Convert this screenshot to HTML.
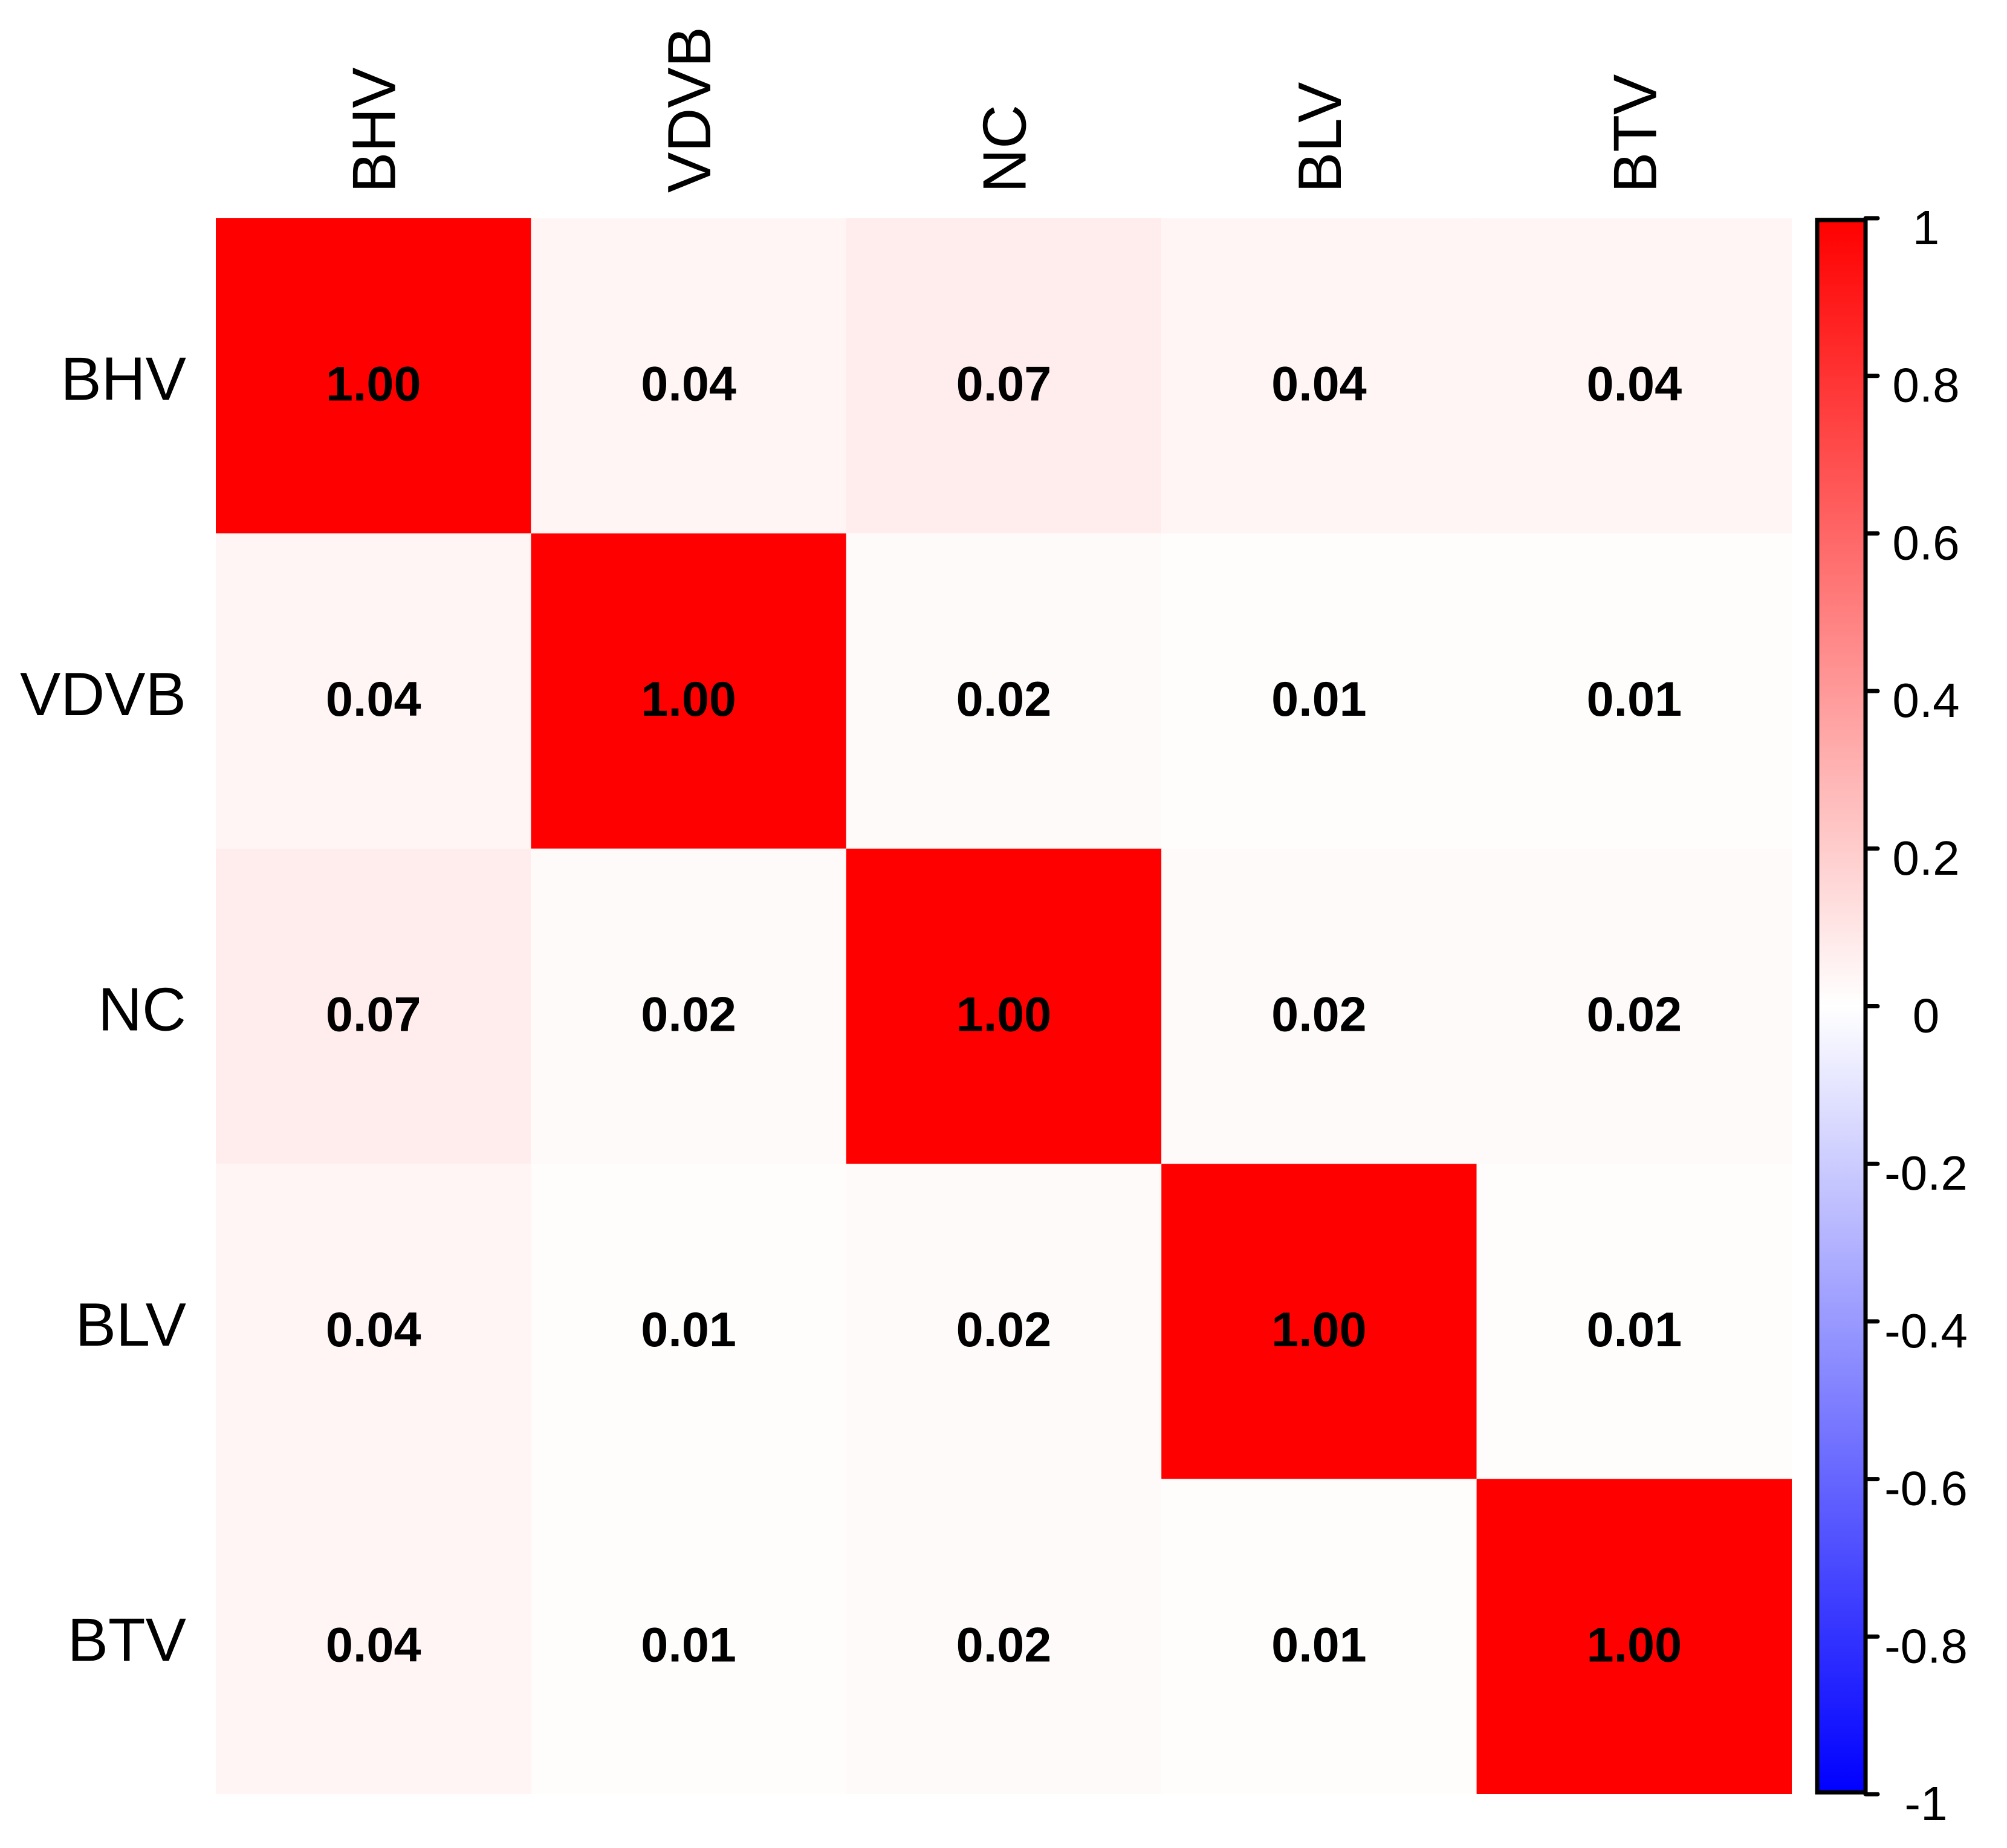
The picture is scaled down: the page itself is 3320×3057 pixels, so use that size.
<!DOCTYPE html>
<html><head><meta charset="utf-8"><style>
html,body{margin:0;padding:0;background:#fff}
svg{display:block}
text{font-family:"Liberation Sans",Arial,sans-serif}
</style></head><body>
<svg id="chart" width="3320" height="3057" viewBox="0 0 3320 3057" xmlns="http://www.w3.org/2000/svg">
<defs>
<linearGradient id="cbgrad" x1="0" y1="0" x2="0" y2="1">
<stop offset="0" stop-color="#ff0000"/>
<stop offset="0.5" stop-color="#ffffff"/>
<stop offset="1" stop-color="#0000ff"/>
</linearGradient>
</defs>
<g id="cells"></g>
<g id="labels"></g>
<g id="colorbar"></g>
</svg>
<script>
const categories = ["BHV","VDVB","NC","BLV","BTV"];
const values = [
  [1.00,0.04,0.07,0.04,0.04],
  [0.04,1.00,0.02,0.01,0.01],
  [0.07,0.02,1.00,0.02,0.02],
  [0.04,0.01,0.02,1.00,0.01],
  [0.04,0.01,0.02,0.01,1.00]
];
const cbTicks = [1,0.8,0.6,0.4,0.2,0,-0.2,-0.4,-0.6,-0.8,-1];
const cbTickLabels = ["1","0.8","0.6","0.4","0.2","0","-0.2","-0.4","-0.6","-0.8","-1"];

const NS = "http://www.w3.org/2000/svg";
const gx0 = 357, gy0 = 361, gx1 = 2964, gy1 = 2968;
const n = categories.length;
const cw = (gx1 - gx0) / n, ch = (gy1 - gy0) / n;
function xPos(i){ return gx0 + i * cw; }
function yPos(i){ return gy0 + i * ch; }
function color(v){
  let r,g,b;
  if (v >= 0){ r = 255; g = b = Math.round(255 * (1 - v)); }
  else { b = 255; r = g = Math.round(255 * (1 + v)); }
  return "rgb(" + r + "," + g + "," + b + ")";
}
const cbTop = 361, cbBot = 2968, cbL = 3003, cbR = 3089;
function cbY(v){ return cbTop + (1 - v) / 2 * (cbBot - cbTop); }

const cells = document.getElementById("cells");
const labels = document.getElementById("labels");
const cb = document.getElementById("colorbar");

for (let r = 0; r < n; r++){
  for (let c = 0; c < n; c++){
    const v = values[r][c];
    const rect = document.createElementNS(NS, "rect");
    rect.setAttribute("x", xPos(c));
    rect.setAttribute("y", yPos(r));
    rect.setAttribute("width", cw);
    rect.setAttribute("height", ch);
    rect.setAttribute("fill", color(v));
    
    
    cells.appendChild(rect);
    const t = document.createElementNS(NS, "text");
    t.setAttribute("x", xPos(c) + cw / 2);
    t.setAttribute("y", yPos(r) + ch / 2 + 41);
    t.setAttribute("text-anchor", "middle");
    t.setAttribute("font-size", "81");
    t.setAttribute("font-weight", "bold");
    t.textContent = v.toFixed(2);
    
    
    cells.appendChild(t);
  }
}
for (let i = 0; i < n; i++){
  const t = document.createElementNS(NS, "text");
  t.setAttribute("x", 308);
  t.setAttribute("y", yPos(i) + ch / 2 + 40);
  t.setAttribute("text-anchor", "end");
  t.setAttribute("font-size", "101");
  t.textContent = categories[i];
  
  
  labels.appendChild(t);
  const cx = xPos(i) + cw / 2 + 36;
  const t2 = document.createElementNS(NS, "text");
  t2.setAttribute("x", cx);
  t2.setAttribute("y", 319);
  t2.setAttribute("transform", "rotate(-90 " + cx + " 319)");
  t2.setAttribute("text-anchor", "start");
  t2.setAttribute("font-size", "101");
  t2.textContent = categories[i];
  
  
  labels.appendChild(t2);
}
const bar = document.createElementNS(NS, "rect");
bar.setAttribute("x", cbL + 3);
bar.setAttribute("y", cbTop + 3);
bar.setAttribute("width", cbR - cbL - 6);
bar.setAttribute("height", cbBot - cbTop - 6);
bar.setAttribute("fill", "url(#cbgrad)");
bar.setAttribute("stroke", "#000");
bar.setAttribute("stroke-width", "7");


cb.appendChild(bar);
for (let i = 0; i < cbTicks.length; i++){
  const y = cbY(cbTicks[i]);
  const ln = document.createElementNS(NS, "line");
  ln.setAttribute("x1", cbR - 3);
  ln.setAttribute("x2", 3106);
  ln.setAttribute("y1", y);
  ln.setAttribute("y2", y);
  ln.setAttribute("stroke", "#000");
  ln.setAttribute("stroke-width", "7");
  ln.setAttribute("stroke-linecap", "round");
  
  
  cb.appendChild(ln);
  const t = document.createElementNS(NS, "text");
  t.setAttribute("x", 3186);
  t.setAttribute("y", y + 14 + 29);
  t.setAttribute("text-anchor", "middle");
  t.setAttribute("font-size", "80");
  t.textContent = cbTickLabels[i];
  
  
  cb.appendChild(t);
}
</script>
</body></html>
